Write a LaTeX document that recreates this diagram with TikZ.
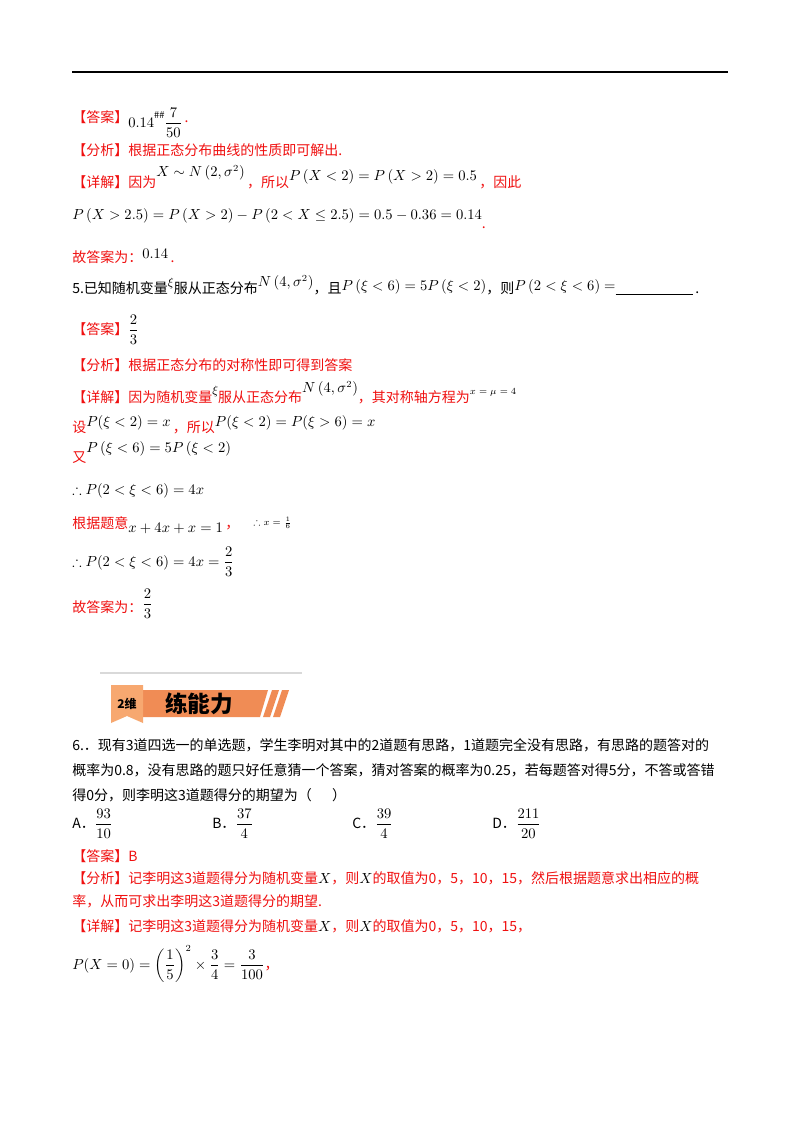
\documentclass[tikz,border=0pt]{standalone}
\usepackage{amsmath,amssymb}
\usepackage{fontspec}
\setmainfont{Liberation Serif}
\newfontfamily\cjk{Noto Sans CJK SC}
\definecolor{ared}{HTML}{F01010}
\definecolor{bar}{HTML}{F08C55}
\definecolor{tab}{HTML}{F7A870}
\newcommand{\up}[2]{\raisebox{#1pt}{\textcolor{black}{#2}}}
\begin{document}
\begin{tikzpicture}[x=0.75pt,y=-0.75pt,
  t/.style={anchor=base west,inner sep=0pt,font=\fontsize{10.5}{12}\selectfont\cjk},
  r/.style={t,text=ared},
  k/.style={t,text=black}]
\useasboundingbox (0,0) rectangle (800,1132);
\fill[white] (0,0) rectangle (800,1132);
\draw[line width=1.5pt] (72,72) -- (728,72);
% answer 4
\node[r] (a1) at (72,122) {【答案】\up{-4}{$0.14$}\up{3}{\scriptsize\#\#}\up{-4}{$\dfrac{7}{50}$}\,.};
\node[r] (b1) at (72,155) {【分析】根据正态分布曲线的性质即可解出.};
\node[r] (c1) at (72,187) {【详解】因为\up{8}{$X\sim N\left(2,\sigma^2\right)$}\,，所以\up{5}{$P\left(X<2\right)=P\left(X>2\right)=0.5$}\,，因此};
\node[k] (d1) at (72,219) {$P\left(X>2.5\right)=P\left(X>2\right)-P\left(2<X\le 2.5\right)=0.5-0.36=0.14$\textcolor{ared}{\raisebox{-7pt}{.}}};
\node[r] (e1) at (72,262) {故答案为：\up{3}{$0.14$}\,.};
% problem 5
\node[k] (p5) at (72,293) {5.已知随机变量\raisebox{5pt}{\small$\xi$}服从正态分布\raisebox{5pt}{$N\left(4,\sigma^2\right)$}，且\raisebox{2pt}{$P\left(\xi<6\right)=5P\left(\xi<2\right)$}，则\raisebox{2pt}{$P\left(2<\xi<6\right)=$}\rule[-1pt]{58pt}{0.5pt}\,.};
\node[r] (a2) at (72,334) {【答案】\up{0}{$\dfrac{2}{3}$}};
\node[r] (b2) at (72,370) {【分析】根据正态分布的对称性即可得到答案};
\node[r] (c2) at (72,402) {【详解】因为随机变量\raisebox{6pt}{\textcolor{black}{\small$\xi$}}服从正态分布\up{7}{$N\left(4,\sigma^2\right)$}，其对称轴方程为\up{6}{\scriptsize$x=\mu=4$}};
\node[r] (s1) at (72,432) {设\up{4}{$P(\xi<2)=x$}\,，所以\up{4}{$P(\xi<2)=P(\xi>6)=x$}};
\node[r] (s2) at (72,462) {又\up{7}{$P\left(\xi<6\right)=5P\left(\xi<2\right)$}};
\node[k] (s3) at (72,494) {$\therefore P(2<\xi<6)=4x$};
\node[r] (s4) at (72,528) {根据题意\up{-3}{$x+4x+x=1$}\,，\quad\up{2}{\scriptsize$\therefore x=\frac{1}{6}$}};
\node[k] (s5) at (72,566) {$\therefore P(2<\xi<6)=4x=\dfrac{2}{3}$};
\node[r] (e2) at (72,612) {故答案为：\up{3}{$\dfrac{2}{3}$}};
% banner
\draw[line width=1pt,gray!30] (100,673) -- (302,673);
\fill[bar] (143,690) -- (268,690) -- (260,717) -- (143,717) -- cycle;
\fill[bar] (272,690) -- (279,690) -- (270,717) -- (263,717) -- cycle;
\fill[bar] (282,690) -- (289,690) -- (280,717) -- (273,717) -- cycle;
\fill[tab] (111,685) -- (143,685) -- (143,723) -- (127,716) -- (111,723) -- cycle;
\node[anchor=center,inner sep=0pt,font={\cjk\bfseries\fontsize{9}{10}\selectfont}] (tb) at (127,704) {2维};
\node[anchor=center,inner sep=0pt,font={\cjk\bfseries\fontsize{17}{20}\selectfont}] (tt) at (199,704) {练能力};
% problem 6
\node[k] (q1) at (72,750) {6.．现有3道四选一的单选题，学生李明对其中的2道题有思路，1道题完全没有思路，有思路的题答对的};
\node[k] (q2) at (72,775) {概率为0.8，没有思路的题只好任意猜一个答案，猜对答案的概率为0.25，若每题答对得5分，不答或答错};
\node[k] (q3) at (72,800) {得0分，则李明这3道题得分的期望为（\quad\ \ ）};
\node[k] (o1) at (72,828) {A．$\dfrac{93}{10}$};
\node[k] (o2) at (212,828) {B．$\dfrac{37}{4}$};
\node[k] (o3) at (352,828) {C．$\dfrac{39}{4}$};
\node[k] (o4) at (492,828) {D．$\dfrac{211}{20}$};
\node[r] (a3) at (72,861) {【答案】B};
\node[r] (b3) at (72,883) {【分析】记李明这3道题得分为随机变量\textcolor{black}{$X$}，则\textcolor{black}{$X$}的取值为0，5，10，15，然后根据题意求出相应的概};
\node[r] (b3b) at (72,906) {率，从而可求出李明这3道题得分的期望.};
\node[r] (c3) at (72,931) {【详解】记李明这3道题得分为随机变量\textcolor{black}{$X$}，则\textcolor{black}{$X$}的取值为0，5，10，15，};
\node[k] (f3) at (72,969) {$P(X=0)=\left(\dfrac{1}{5}\right)^{2}\times\dfrac{3}{4}=\dfrac{3}{100}$\textcolor{ared}{，}};
\end{tikzpicture}
\end{document}
